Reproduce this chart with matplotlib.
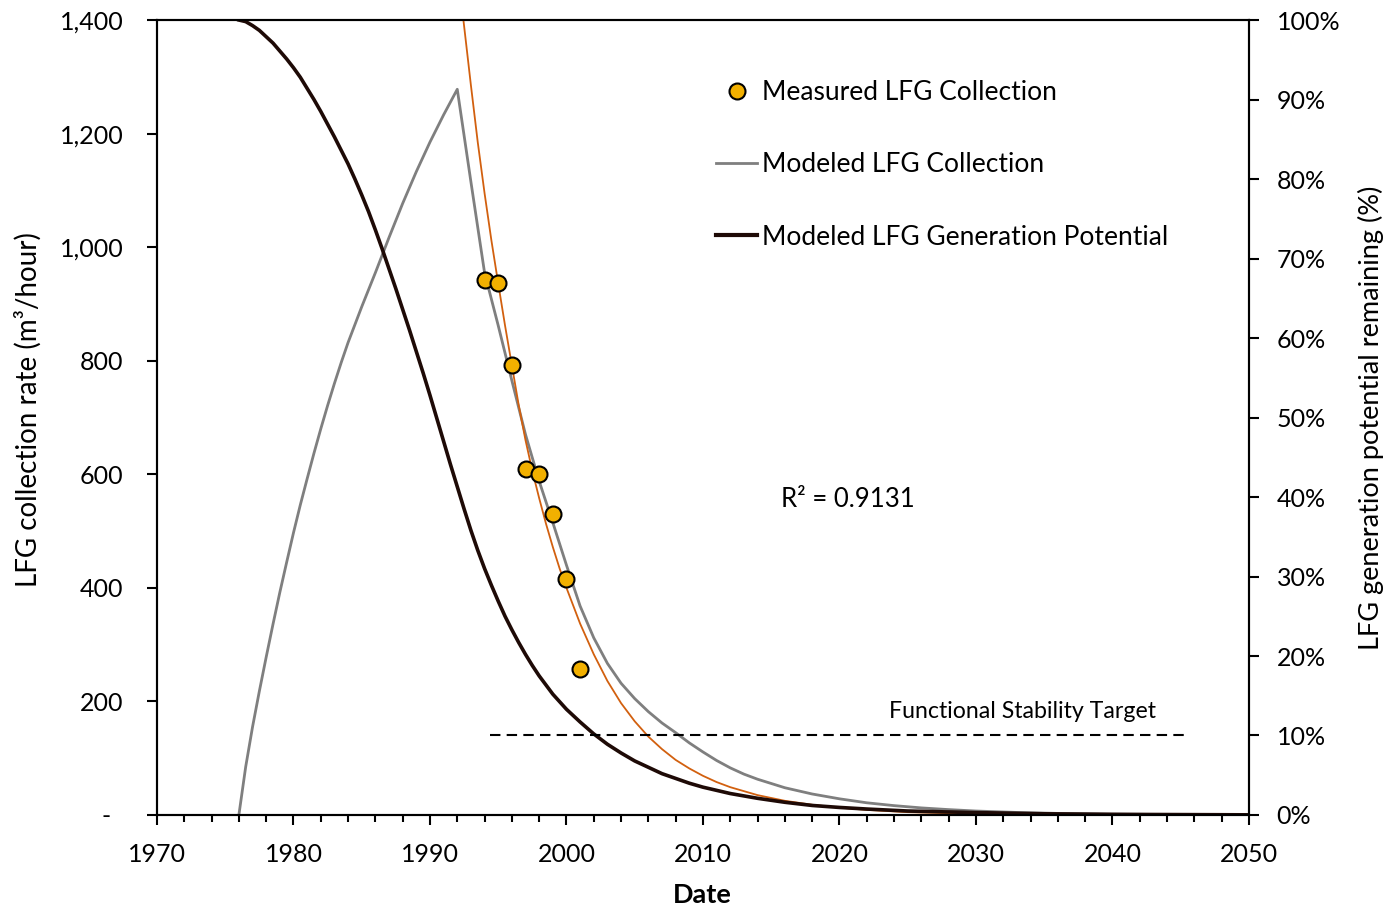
import matplotlib
matplotlib.use("Agg")
import matplotlib.pyplot as plt
from matplotlib.lines import Line2D
from matplotlib.ticker import MultipleLocator, FuncFormatter, PercentFormatter

plt.rcParams["font.family"] = ["Lato", "DejaVu Sans"]

# measured landfill gas collection (m3/hour)
measured_years = [1994, 1995, 1996, 1997, 1998, 1999, 2000, 2001]
measured_rate = [943, 936, 792, 610, 600, 530, 415, 257]

# modeled collection (m3/hour)
collection_years = [1976, 1976.5, 1977, 1977.5, 1978, 1978.5, 1979, 1979.5,
                    1980, 1980.5, 1981, 1981.5, 1982, 1982.5, 1983, 1983.5,
                    1984, 1985, 1986, 1987, 1988, 1989, 1990, 1991, 1992,
                    1993, 1994, 1995, 1996, 1997, 1998, 1999, 2000, 2001,
                    2002, 2003, 2004, 2005, 2006, 2007, 2008, 2009, 2010,
                    2011, 2012, 2013, 2014, 2016, 2018, 2020, 2022, 2024,
                    2026, 2028, 2030, 2033, 2036, 2040, 2045, 2050]
collection_rate = [0, 85, 155, 218, 278, 336, 392, 445,
                   497, 546, 592, 637, 680, 721, 760, 797,
                   832, 895, 955, 1017, 1077, 1133, 1185, 1233, 1278,
                   1115, 955, 862, 765, 670, 588, 515, 440, 368,
                   312, 267, 232, 205, 182, 162, 145, 127, 111,
                   96, 83, 72, 63, 48, 37, 28.5, 21.5, 16.5,
                   12.5, 9.5, 7, 4.5, 2.8, 1.5, 0.6, 0.2]

# exponential fit to the measured points (m3/hour)
fit_years = [1992.45, 1993, 1993.5, 1994, 1994.5, 1995, 1995.5, 1996, 1996.5,
             1997, 1997.5, 1998, 1998.5, 1999, 1999.5, 2000, 2001, 2002, 2003,
             2004, 2005, 2006, 2007, 2008, 2009, 2010, 2011, 2012, 2014, 2016,
             2018, 2020, 2022, 2025, 2030, 2035, 2040, 2050]
fit_rate = [1400, 1285, 1185, 1095, 1012, 936, 862, 792, 722,
            660, 606, 558, 513, 472, 434, 400, 337, 283, 236,
            197, 165, 138, 116, 97, 82, 69, 58, 49, 35, 25,
            18, 13, 9, 5, 2, 0.8, 0.3, 0.05]

# generation potential remaining (%)
potential_years = [1976, 1976.5, 1977, 1977.5, 1978, 1978.5, 1979, 1979.5,
                   1980, 1980.5, 1981, 1981.5, 1982, 1982.5, 1983, 1983.5,
                   1984, 1984.5, 1985, 1985.5, 1986, 1986.5, 1987, 1987.5,
                   1988, 1988.5, 1989, 1989.5, 1990, 1990.5, 1991, 1991.5,
                   1992, 1992.5, 1993, 1993.5, 1994, 1994.5, 1995, 1995.5,
                   1996, 1996.5, 1997, 1997.5, 1998, 1999, 2000, 2001, 2002,
                   2003, 2004, 2005, 2006, 2007, 2008, 2009, 2010, 2012, 2014,
                   2016, 2018, 2020, 2022, 2025, 2030, 2035, 2040, 2050]
potential_pct = [100, 99.8, 99.3, 98.7, 97.9, 97.1, 96.1, 95.1,
                 94.0, 92.8, 91.4, 90.0, 88.5, 86.9, 85.3, 83.6,
                 81.9, 80.0, 78.0, 75.9, 73.6, 71.2, 68.7, 66.2,
                 63.6, 61.0, 58.3, 55.6, 52.8, 49.9, 47.0, 44.1,
                 41.3, 38.5, 35.8, 33.3, 31.0, 28.9, 26.9, 25.0,
                 23.3, 21.7, 20.2, 18.8, 17.5, 15.2, 13.3, 11.7, 10.2,
                 8.9, 7.8, 6.8, 6.0, 5.2, 4.6, 4.0, 3.5, 2.7, 2.1,
                 1.6, 1.2, 0.95, 0.75, 0.5, 0.3, 0.15, 0.08, 0.02]

# functional stability target (% remaining)
target_years = [1994.4, 2045.5]
target_pct = [10, 10]

r_squared = 0.9131

fig = plt.figure(figsize=(13.88, 9.10), dpi=100)
ax = fig.add_axes([0.1131, 0.1044, 0.7867, 0.8736])
ax2 = ax.twinx()

gray = "#7f7f7f"
dark = "#1e0a06"
orange = "#d2600f"
gold = "#f2b000"

ax.plot(collection_years, collection_rate, color=gray, lw=2.0, zorder=2)
ax.plot(fit_years, fit_rate, color=orange, lw=1.3, zorder=3)
ax.plot(measured_years, measured_rate, ls="none", marker="o", ms=11.5,
        mfc=gold, mec="black", mew=1.5, zorder=4)

ax2.plot(potential_years, potential_pct, color=dark, lw=2.6, zorder=2)
ax2.plot(target_years, target_pct, color="black", lw=1.5, dashes=(5, 3))

ax.set_xlim(1970, 2050)
ax.set_ylim(0, 1400)
ax2.set_ylim(0, 100)

ax.xaxis.set_major_locator(MultipleLocator(10))
ax.xaxis.set_minor_locator(MultipleLocator(2))
ax.yaxis.set_major_locator(MultipleLocator(200))
ax2.yaxis.set_major_locator(MultipleLocator(10))

ax.yaxis.set_major_formatter(FuncFormatter(
    lambda v, pos: "-  " if v == 0 else f"{v:,.0f}"))
ax2.yaxis.set_major_formatter(PercentFormatter(100, decimals=0))

for a in (ax, ax2):
    for s in a.spines.values():
        s.set_linewidth(1.5)
        s.set_color("black")

ax.tick_params(axis="x", which="major", direction="out", length=7, width=1.5,
               pad=13, labelsize=18)
ax.tick_params(axis="x", which="minor", direction="out", length=5, width=1.5)
ax.tick_params(axis="y", direction="out", length=7, width=1.5, pad=17,
               labelsize=18)
ax2.tick_params(axis="y", direction="out", length=7, width=1.5, pad=13,
                labelsize=18)

ax.set_xlabel("Date", fontsize=19.5, fontweight="bold")
ax.set_ylabel("LFG collection rate (m\u00b3/hour)", fontsize=20)
ax2.set_ylabel("LFG generation potential remaining (%)", fontsize=19.5)
ax.xaxis.set_label_coords(0.499, -0.086)
ax.yaxis.set_label_coords(-0.106, 0.51)
ax2.yaxis.set_label_coords(1.0995, 0.5)

ax.text(2015.7, 555, f"R\u00b2 = {r_squared}", fontsize=18.5,
        ha="left", va="center")
ax2.text(2033.4, 13.0, "Functional Stability Target", fontsize=16.7,
         ha="center", va="center")

handles = [
    Line2D([], [], ls="none", marker="o", ms=11.5, mfc=gold, mec="black", mew=1.5),
    Line2D([], [], color=gray, lw=2.0),
    Line2D([], [], color=dark, lw=3.0),
]
labels = ["Measured LFG Collection", "Modeled LFG Collection",
          "Modeled LFG Generation Potential"]
ax2.legend(handles, labels, loc="upper left", bbox_to_anchor=(0.512, 0.9245),
           frameon=False, fontsize=19, labelspacing=1.79, handlelength=1.55,
           handletextpad=0.19, borderpad=0, borderaxespad=0)

fig.savefig("out.png", dpi=100)
